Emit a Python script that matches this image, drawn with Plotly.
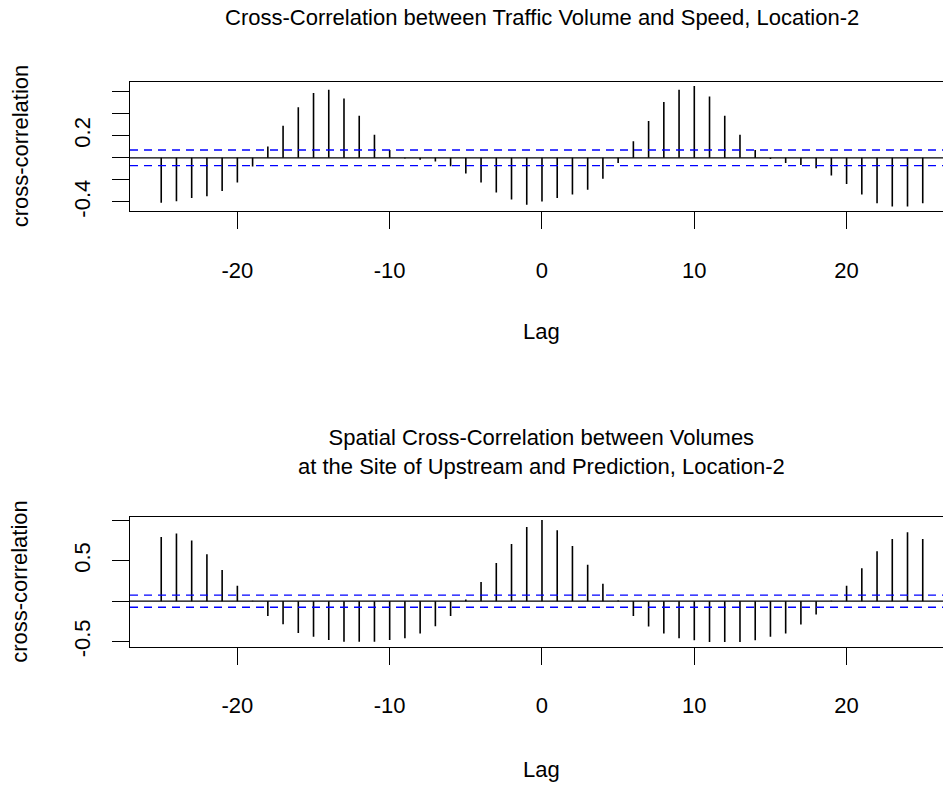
import plotly.graph_objects as go

# Lags shared by both cross-correlation panels
lags = list(range(-25, 26))

# Cross-correlation between traffic volume and speed (Location-2)
ccf_volume_speed = [
    -0.408, -0.393, -0.363, -0.348, -0.301, -0.223, -0.080, 0.101, 0.289, 0.458,
    0.586, 0.616, 0.536, 0.381, 0.208, 0.071, -0.006, -0.018, -0.033, -0.077,
    -0.143, -0.223, -0.315, -0.378, -0.426, -0.396, -0.363, -0.333, -0.289, -0.190,
    -0.048, 0.149, 0.333, 0.506, 0.616, 0.649, 0.554, 0.381, 0.208, 0.071,
    -0.012, -0.048, -0.065, -0.095, -0.161, -0.238, -0.333, -0.411, -0.440, -0.440,
    -0.411,
]

# Spatial cross-correlation between upstream and prediction-site volumes
ccf_upstream_pred = [
    0.793, 0.837, 0.752, 0.581, 0.386, 0.191, 0.005, -0.183, -0.285, -0.394,
    -0.439, -0.480, -0.500, -0.500, -0.500, -0.480, -0.459, -0.398, -0.309, -0.183,
    0.020, 0.236, 0.472, 0.707, 0.919, 1.004, 0.878, 0.683, 0.451, 0.215,
    0.008, -0.183, -0.313, -0.398, -0.459, -0.484, -0.504, -0.504, -0.504, -0.484,
    -0.439, -0.398, -0.289, -0.163, 0.005, 0.191, 0.407, 0.618, 0.768, 0.854,
    0.768,
]

# Approximate 95% significance bounds
ci_top = 0.071
ci_bottom = 0.075

x_ticks = [-20, -10, 0, 10, 20]
x_tick_text = ["-20", "-10", "0", "10", "20"]
y_ticks_top = [-0.4, -0.2, 0.0, 0.2, 0.4, 0.6]
y_tick_text_top = ["-0.4", "", "", "0.2", "", ""]
y_ticks_bottom = [-0.5, 0.0, 0.5, 1.0]
y_tick_text_bottom = ["-0.5", "", "0.5", ""]

title_top = "Cross-Correlation between Traffic Volume and Speed, Location-2"
title_bottom = ("Spatial Cross-Correlation between Volumes<br>"
                "at the Site of Upstream and Prediction, Location-2")

W, H = 943, 791
FONT = "Liberation Sans, Arial, Helvetica, sans-serif"
FS = 22


def py(y_px):
    """Pixel row (from top) to paper coordinate."""
    return 1 - y_px / H


def stems(xs, ys):
    sx, sy = [], []
    for x, y in zip(xs, ys):
        sx += [x, x, None]
        sy += [0, y, None]
    return sx, sy


fig = go.Figure()

sx, sy = stems(lags, ccf_volume_speed)
fig.add_trace(go.Scatter(x=sx, y=sy, mode="lines", xaxis="x", yaxis="y",
                         line=dict(color="black", width=1.6),
                         hoverinfo="skip", showlegend=False))
sx, sy = stems(lags, ccf_upstream_pred)
fig.add_trace(go.Scatter(x=sx, y=sy, mode="lines", xaxis="x2", yaxis="y2",
                         line=dict(color="black", width=1.6),
                         hoverinfo="skip", showlegend=False))

x_dom = [130 / W, 1.0]
x_rng = [-27.05, 26.33]

common_x = dict(range=x_rng, domain=x_dom, tickvals=x_ticks, ticktext=x_tick_text,
                ticks="outside", ticklen=17, tickwidth=1.3, tickcolor="black",
                showline=True, linewidth=1.3, linecolor="black", mirror=True,
                showgrid=False, zeroline=False, fixedrange=True,
                tickfont=dict(family=FONT, size=FS, color="black"),
                ticklabelstandoff=22)
common_y = dict(ticks="outside", ticklen=17, tickwidth=1.3, tickcolor="black",
                showline=True, linewidth=1.3, linecolor="black", mirror=False,
                showgrid=False, zeroline=False, fixedrange=True, tickangle=-90,
                tickfont=dict(family=FONT, size=FS, color="black"),
                ticklabelstandoff=13)

fig.update_layout(
    width=W, height=H, autosize=False,
    margin=dict(l=0, r=0, t=0, b=0),
    paper_bgcolor="white", plot_bgcolor="white",
    showlegend=False,
    xaxis=dict(anchor="y", **common_x),
    yaxis=dict(anchor="x", domain=[py(214), py(82.7)], range=[-0.482, 0.690],
               tickvals=y_ticks_top, ticktext=y_tick_text_top, **common_y),
    xaxis2=dict(anchor="y2", **common_x),
    yaxis2=dict(anchor="x2", domain=[py(655.7), py(524.3)], range=[-0.561, 1.041],
                tickvals=y_ticks_bottom, ticktext=y_tick_text_bottom, **common_y),
)

# Zero lines and dashed significance bounds
for xr, yr, ci in [("x domain", "y", ci_top), ("x2 domain", "y2", ci_bottom)]:
    fig.add_shape(type="line", xref=xr, yref=yr, x0=0, x1=1, y0=0, y1=0,
                  line=dict(color="black", width=1.3))
    for v in (ci, -ci):
        fig.add_shape(type="line", xref=xr, yref=yr, x0=0, x1=1, y0=v, y1=v,
                      line=dict(color="#0000FF", width=1.4, dash="8px,6px"))

txt = dict(family=FONT, size=FS, color="black")
ann = [
    dict(text=title_top, xref="x", yref="paper", x=0, y=py(18),
         xanchor="center", yanchor="middle", showarrow=False, font=txt),
    dict(text=title_bottom, xref="x2", yref="paper", x=0, y=py(458),
         xanchor="center", yanchor="middle", showarrow=False, font=txt),
    dict(text="Lag", xref="x", yref="paper", x=0, y=py(336),
         xanchor="center", yanchor="middle", showarrow=False, font=txt),
    dict(text="Lag", xref="x2", yref="paper", x=0, y=py(780),
         xanchor="center", yanchor="middle", showarrow=False, font=txt),
    dict(text="cross-correlation", xref="paper", yref="paper", x=20 / W,
         y=py(148.4), textangle=-90, xanchor="center", yanchor="middle",
         showarrow=False, font=txt),
    dict(text="cross-correlation", xref="paper", yref="paper", x=20 / W,
         y=py(590), textangle=-90, xanchor="center", yanchor="middle",
         showarrow=False, font=txt),
]
fig.update_layout(annotations=ann)

fig.write_html("out.html")
